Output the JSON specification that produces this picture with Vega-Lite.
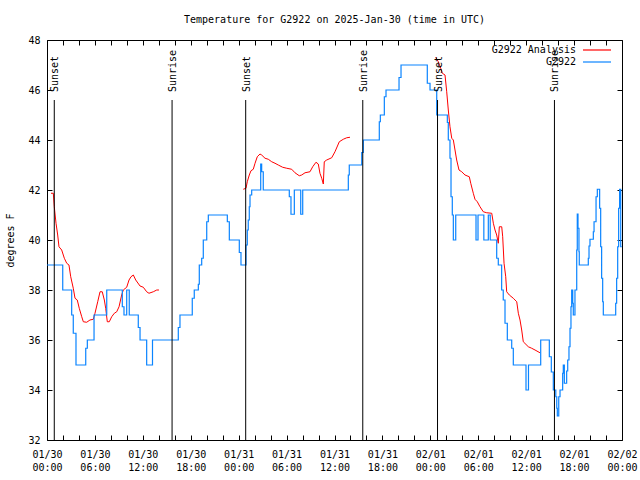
{
  "$schema": "https://vega.github.io/schema/vega-lite/v6.json",
  "width": 575,
  "height": 400,
  "autosize": {"type": "none"},
  "padding": {"left": 47, "top": 40, "right": 18, "bottom": 40},
  "title": {"text": "Temperature for G2922 on 2025-Jan-30 (time in UTC)", "font": "DejaVu Sans Mono", "fontSize": 10, "fontWeight": "normal", "color": "black", "offset": 10, "anchor": "middle"},
  "config": {
    "view": {"stroke": "black", "strokeWidth": 1},
    "font": "DejaVu Sans Mono",
    "axis": {"grid": false, "domain": false, "labelFont": "DejaVu Sans Mono", "labelFontSize": 10, "labelColor": "black", "tickColor": "black", "titleFont": "DejaVu Sans Mono", "titleFontSize": 10, "titleFontWeight": "normal", "titleColor": "black"}
  },
  "datasets": {
    "obs": [
      {"t":0,"v":39},{"t":1.97,"v":38},{"t":3.09,"v":37},{"t":3.29,"v":36.27},{"t":3.63,"v":35},{"t":4.85,"v":35.67},{"t":5.05,"v":36},{"t":5.89,"v":37},{"t":7.48,"v":38},{"t":9.43,"v":37.33},{"t":9.64,"v":37},{"t":9.98,"v":38},{"t":10.3,"v":37},{"t":11.43,"v":36.5},{"t":11.65,"v":36},{"t":12.48,"v":35},{"t":13.21,"v":36},{"t":16.44,"v":36.5},{"t":16.65,"v":37},{"t":18.19,"v":37.67},{"t":18.44,"v":38},{"t":18.95,"v":38.23},{"t":19.07,"v":39},{"t":19.37,"v":39.27},{"t":19.57,"v":40},{"t":20.0,"v":40.73},{"t":20.2,"v":41},{"t":22.58,"v":40.73},{"t":22.83,"v":40},{"t":24.08,"v":39.5},{"t":24.29,"v":39},{"t":24.92,"v":39.8},{"t":25.08,"v":40.4},{"t":25.2,"v":40.8},{"t":25.33,"v":41.33},{"t":25.42,"v":41.8},{"t":25.63,"v":42},{"t":26.76,"v":43.04},{"t":26.88,"v":42.73},{"t":27.08,"v":42},{"t":30.34,"v":41.73},{"t":30.55,"v":41.03},{"t":30.97,"v":42},{"t":31.77,"v":41.03},{"t":32.02,"v":42},{"t":37.73,"v":42.6},{"t":37.85,"v":43},{"t":39.41,"v":43.5},{"t":39.61,"v":44},{"t":41.61,"v":44.73},{"t":41.74,"v":45},{"t":42.24,"v":45.73},{"t":42.45,"v":46},{"t":44.08,"v":46.5},{"t":44.33,"v":47},{"t":47.62,"v":46.27},{"t":47.96,"v":46},{"t":48.8,"v":45},{"t":50.13,"v":44.7},{"t":50.25,"v":44},{"t":50.46,"v":43.27},{"t":50.59,"v":41.73},{"t":50.75,"v":41},{"t":50.88,"v":40},{"t":51.18,"v":41},{"t":53.72,"v":40},{"t":53.97,"v":41},{"t":54.7,"v":40},{"t":55.26,"v":41},{"t":55.5,"v":40},{"t":56.31,"v":39.27},{"t":56.51,"v":39},{"t":56.93,"v":38},{"t":57.13,"v":37.6},{"t":57.35,"v":36.67},{"t":57.64,"v":36},{"t":58.19,"v":35.67},{"t":58.39,"v":35},{"t":59.98,"v":34},{"t":60.29,"v":35},{"t":61.82,"v":36},{"t":62.9,"v":35.33},{"t":63.15,"v":34.72},{"t":63.4,"v":34},{"t":63.71,"v":33.73},{"t":63.83,"v":33.27},{"t":63.9,"v":32.96},{"t":64.08,"v":33.73},{"t":64.24,"v":34},{"t":64.57,"v":34.67},{"t":64.65,"v":35},{"t":64.78,"v":34.27},{"t":65.07,"v":34.76},{"t":65.2,"v":35.2},{"t":65.36,"v":35.73},{"t":65.49,"v":36.47},{"t":65.61,"v":37.33},{"t":65.7,"v":38},{"t":65.83,"v":37.47},{"t":65.9,"v":37},{"t":66.11,"v":38},{"t":66.33,"v":39.6},{"t":66.4,"v":41.04},{"t":66.49,"v":40.47},{"t":66.61,"v":39.53},{"t":66.65,"v":39},{"t":67.78,"v":39.27},{"t":67.87,"v":39.76},{"t":67.99,"v":40.03},{"t":68.41,"v":40.33},{"t":68.5,"v":40.73},{"t":68.75,"v":41.73},{"t":68.91,"v":42.03},{"t":69.2,"v":41.27},{"t":69.33,"v":39.73},{"t":69.45,"v":38.47},{"t":69.58,"v":37.53},{"t":69.66,"v":37},{"t":71.21,"v":37.47},{"t":71.33,"v":38.47},{"t":71.46,"v":39.73},{"t":71.58,"v":41.27},{"t":71.7,"v":42.03},{"t":71.84,"v":39.73},{"t":71.98,"v":39.73}
    ],
    "ana": [
      {"s":1,"t":0.5,"v":41.87},{"s":1,"t":0.79,"v":41.87},{"s":1,"t":0.91,"v":41.33},{"s":1,"t":1.13,"v":40.67},{"s":1,"t":1.34,"v":40.2},{"s":1,"t":1.5,"v":39.73},{"s":1,"t":1.84,"v":39.6},{"s":1,"t":2.17,"v":39.27},{"s":1,"t":2.47,"v":39.07},{"s":1,"t":2.75,"v":39.0},{"s":1,"t":2.97,"v":38.53},{"s":1,"t":3.29,"v":38.07},{"s":1,"t":3.51,"v":37.67},{"s":1,"t":3.79,"v":37.6},{"s":1,"t":4.04,"v":37.27},{"s":1,"t":4.35,"v":36.93},{"s":1,"t":4.55,"v":36.73},{"s":1,"t":4.97,"v":36.71},{"s":1,"t":5.38,"v":36.8},{"s":1,"t":5.8,"v":36.83},{"s":1,"t":6.01,"v":37.07},{"s":1,"t":6.35,"v":37.53},{"s":1,"t":6.64,"v":37.93},{"s":1,"t":6.92,"v":37.93},{"s":1,"t":7.18,"v":37.6},{"s":1,"t":7.35,"v":37.27},{"s":1,"t":7.55,"v":36.73},{"s":1,"t":7.8,"v":36.73},{"s":1,"t":8.1,"v":36.93},{"s":1,"t":8.43,"v":37.07},{"s":1,"t":8.73,"v":37.13},{"s":1,"t":9.02,"v":37.33},{"s":1,"t":9.35,"v":37.8},{"s":1,"t":9.55,"v":38.0},{"s":1,"t":9.98,"v":38.11},{"s":1,"t":10.27,"v":38.4},{"s":1,"t":10.52,"v":38.53},{"s":1,"t":10.81,"v":38.6},{"s":1,"t":11.11,"v":38.4},{"s":1,"t":11.65,"v":38.16},{"s":1,"t":12.06,"v":38.11},{"s":1,"t":12.48,"v":37.93},{"s":1,"t":12.77,"v":37.87},{"s":1,"t":13.31,"v":37.93},{"s":1,"t":13.74,"v":38.0},{"s":1,"t":14.02,"v":38.0},
      {"s":2,"t":24.58,"v":42.03},{"s":2,"t":24.92,"v":42.07},{"s":2,"t":25.08,"v":42.33},{"s":2,"t":25.33,"v":42.6},{"s":2,"t":25.54,"v":42.77},{"s":2,"t":25.83,"v":42.83},{"s":2,"t":26.05,"v":43.07},{"s":2,"t":26.33,"v":43.33},{"s":2,"t":26.67,"v":43.44},{"s":2,"t":26.88,"v":43.4},{"s":2,"t":27.3,"v":43.27},{"s":2,"t":27.71,"v":43.23},{"s":2,"t":28.14,"v":43.13},{"s":2,"t":28.55,"v":43.07},{"s":2,"t":28.96,"v":43.0},{"s":2,"t":29.51,"v":42.91},{"s":2,"t":30.02,"v":42.87},{"s":2,"t":30.64,"v":42.83},{"s":2,"t":31.05,"v":42.69},{"s":2,"t":31.59,"v":42.57},{"s":2,"t":31.89,"v":42.6},{"s":2,"t":32.31,"v":42.69},{"s":2,"t":32.93,"v":42.73},{"s":2,"t":33.27,"v":42.93},{"s":2,"t":33.68,"v":43.11},{"s":2,"t":33.97,"v":43.04},{"s":2,"t":34.18,"v":42.67},{"s":2,"t":34.4,"v":42.47},{"s":2,"t":34.6,"v":42.24},{"s":2,"t":34.72,"v":43.13},{"s":2,"t":35.02,"v":43.2},{"s":2,"t":35.65,"v":43.29},{"s":2,"t":36.06,"v":43.53},{"s":2,"t":36.6,"v":43.93},{"s":2,"t":37.1,"v":44.03},{"s":2,"t":37.53,"v":44.09},{"s":2,"t":37.94,"v":44.11},
      {"s":3,"t":48.67,"v":47.31},{"s":3,"t":49.0,"v":47.13},{"s":3,"t":49.3,"v":46.87},{"s":3,"t":49.5,"v":46.67},{"s":3,"t":49.84,"v":46.6},{"s":3,"t":50.05,"v":45.93},{"s":3,"t":50.25,"v":45.2},{"s":3,"t":50.46,"v":44.53},{"s":3,"t":50.68,"v":44.07},{"s":3,"t":50.88,"v":44.0},{"s":3,"t":51.09,"v":43.6},{"s":3,"t":51.3,"v":43.2},{"s":3,"t":51.59,"v":42.8},{"s":3,"t":51.93,"v":42.73},{"s":3,"t":52.34,"v":42.6},{"s":3,"t":52.88,"v":42.53},{"s":3,"t":53.06,"v":42.27},{"s":3,"t":53.38,"v":41.87},{"s":3,"t":53.59,"v":41.63},{"s":3,"t":53.88,"v":41.53},{"s":3,"t":54.22,"v":41.33},{"s":3,"t":54.63,"v":41.13},{"s":3,"t":55.06,"v":41.09},{"s":3,"t":55.69,"v":41.07},{"s":3,"t":55.89,"v":40.67},{"s":3,"t":56.1,"v":40.4},{"s":3,"t":56.31,"v":40.2},{"s":3,"t":56.51,"v":39.87},{"s":3,"t":56.64,"v":40.53},{"s":3,"t":56.94,"v":40.53},{"s":3,"t":57.06,"v":40.13},{"s":3,"t":57.23,"v":39.07},{"s":3,"t":57.44,"v":38.53},{"s":3,"t":57.56,"v":37.93},{"s":3,"t":57.89,"v":37.8},{"s":3,"t":58.39,"v":37.67},{"s":3,"t":58.82,"v":37.53},{"s":3,"t":59.02,"v":37.07},{"s":3,"t":59.23,"v":36.8},{"s":3,"t":59.44,"v":36.4},{"s":3,"t":59.64,"v":35.93},{"s":3,"t":60.27,"v":35.73},{"s":3,"t":60.69,"v":35.67},{"s":3,"t":61.11,"v":35.6},{"s":3,"t":61.73,"v":35.49}
    ],
    "sun": [
      {"t":0.91,"event":"Sunset"},{"t":15.66,"event":"Sunrise"},{"t":24.88,"event":"Sunset"},{"t":39.54,"event":"Sunrise"},{"t":48.9,"event":"Sunset"},{"t":63.54,"event":"Sunrise"}
    ]
  },
  "layer": [
    {
      "data": {"name": "ana"},
      "mark": {"type": "line", "strokeWidth": 1, "interpolate": "linear"},
      "encoding": {
        "x": {"field": "t", "type": "quantitative", "scale": {"domain": [0, 72], "nice": false, "zero": false},
              "axis": {"orient": "bottom", "title": null, "values": [0,2,4,6,8,10,12,14,16,18,20,22,24,26,28,30,32,34,36,38,40,42,44,46,48,50,52,54,56,58,60,62,64,66,68,70,72], "tickSize": -5, "labelPadding": 14, "labelOverlap": false, "labelFlush": false, "labelLineHeight": 13,
                       "labelExpr": "datum.value % 6 == 0 ? [['01/30','01/31','02/01','02/02'][floor(datum.value/24)], (datum.value % 24 < 10 ? '0' : '') + (datum.value % 24) + ':00'] : ''"}},
        "y": {"field": "v", "type": "quantitative", "scale": {"domain": [32, 48], "nice": false, "zero": false},
              "axis": {"orient": "left", "title": "degrees F", "values": [32,34,36,38,40,42,44,46,48], "tickSize": -5, "labelPadding": 12, "titlePadding": 12}},
        "detail": {"field": "s"},
        "color": {"datum": "G2922 Analysis", "scale": {"domain": ["G2922 Analysis", "G2922"], "range": ["#ff0000", "#0a84ff"]},
                  "legend": {"orient": "none", "legendX": 545, "legendY": 5, "title": null, "symbolType": "M-3.5,0H3.5", "symbolSize": 64, "symbolStrokeWidth": 1.2, "labelAlign": "right", "labelOffset": -26, "labelFont": "DejaVu Sans Mono", "labelFontSize": 10, "labelColor": "black", "rowPadding": 2, "padding": 0}}
      }
    },
    {
      "data": {"name": "obs"},
      "mark": {"type": "line", "strokeWidth": 1.2, "interpolate": "step-after"},
      "encoding": {
        "x": {"field": "t", "type": "quantitative",
              "axis": {"orient": "top", "title": null, "labels": false, "values": [0,2,4,6,8,10,12,14,16,18,20,22,24,26,28,30,32,34,36,38,40,42,44,46,48,50,52,54,56,58,60,62,64,66,68,70,72], "tickSize": -5}},
        "y": {"field": "v", "type": "quantitative",
              "axis": {"orient": "right", "title": null, "labels": false, "values": [32,34,36,38,40,42,44,46,48], "tickSize": -5}},
        "color": {"datum": "G2922"}
      }
    },
    {
      "data": {"name": "sun"},
      "mark": {"type": "rule", "color": "black", "strokeWidth": 1},
      "encoding": {
        "x": {"field": "t", "type": "quantitative", "axis": null},
        "y": {"datum": 45.6, "axis": null},
        "y2": {"datum": 32}
      }
    },
    {
      "data": {"name": "sun"},
      "mark": {"type": "text", "angle": 270, "align": "left", "baseline": "middle", "font": "DejaVu Sans Mono", "fontSize": 10, "color": "black", "dy": 1},
      "encoding": {
        "x": {"field": "t", "type": "quantitative", "axis": null},
        "y": {"datum": 45.92, "axis": null},
        "text": {"field": "event"}
      }
    }
  ],
  "resolve": {"axis": {"x": "independent", "y": "independent"}}
}
